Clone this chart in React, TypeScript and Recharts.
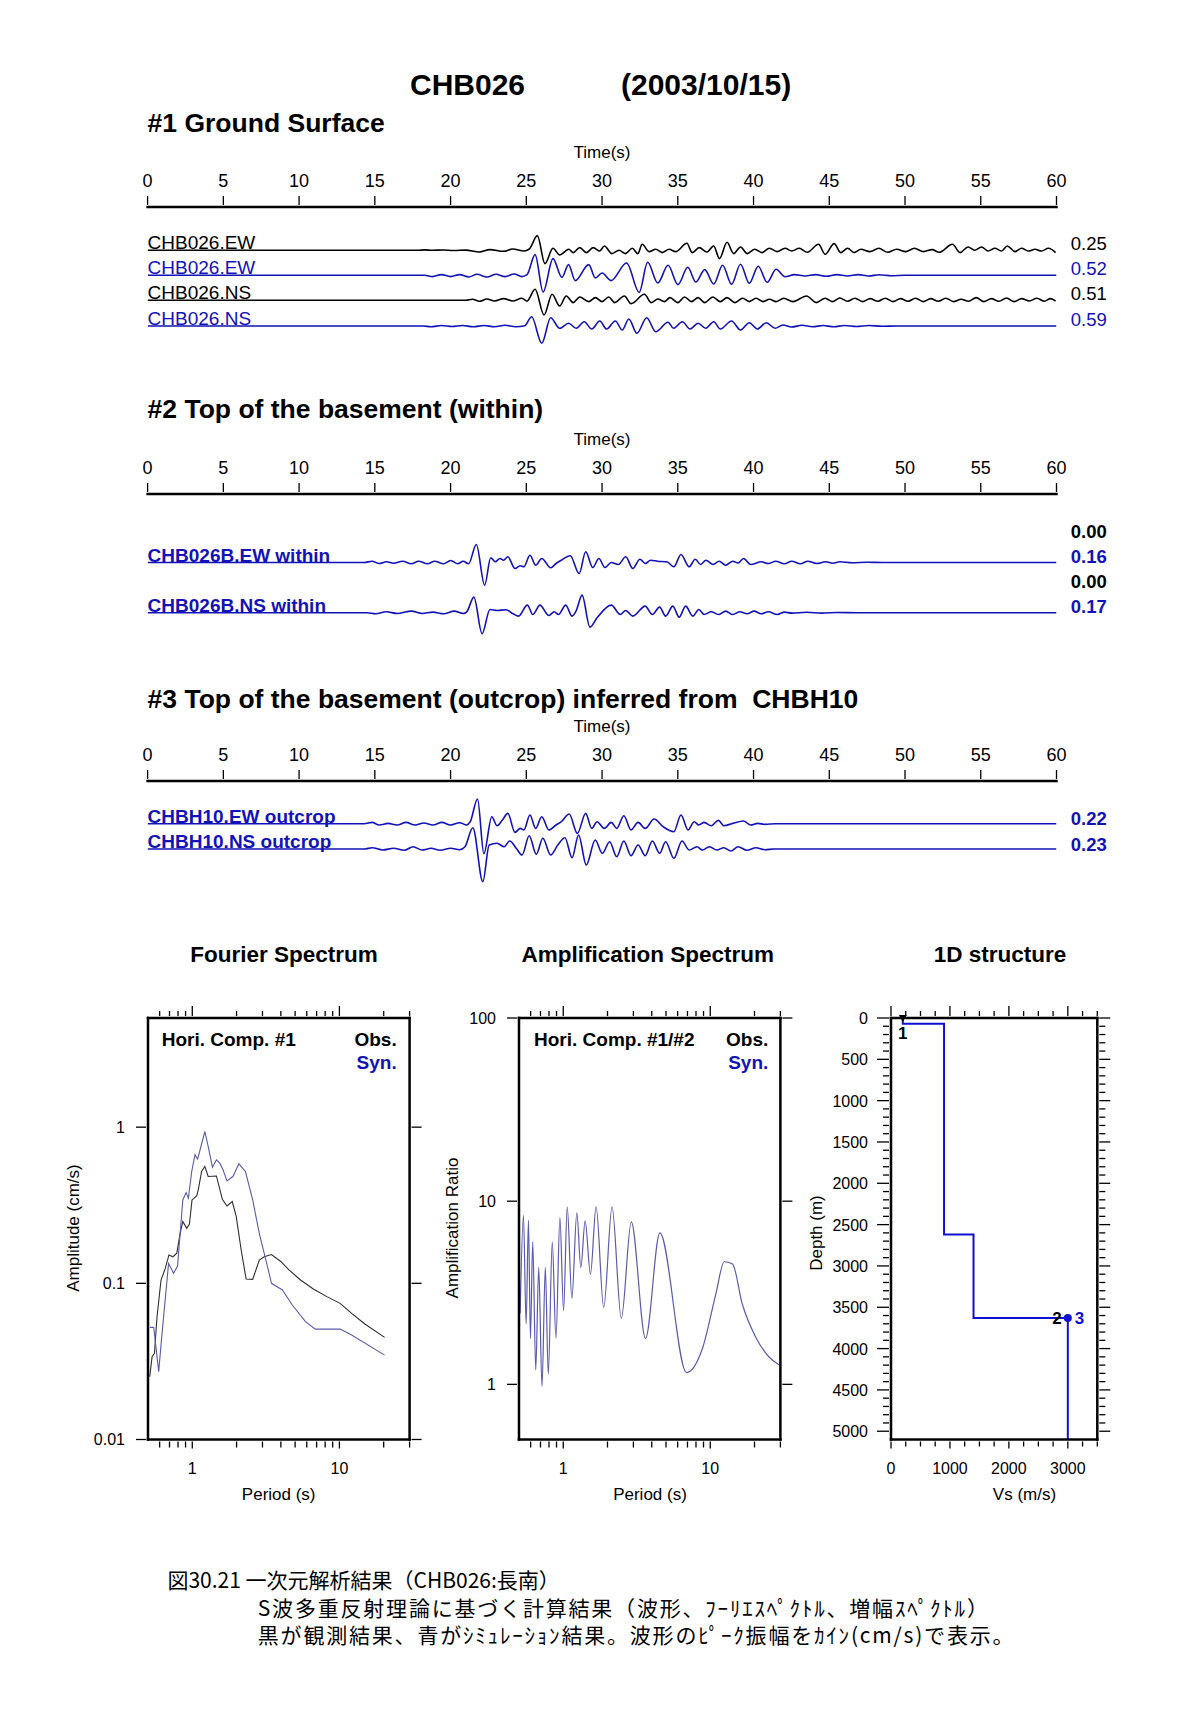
import React from 'react';
import { LineChart, Line, XAxis, YAxis, ReferenceDot } from 'recharts';

const FONT = '"Liberation Sans", Arial, Helvetica, sans-serif';
const JP_FONT = '"Noto Sans CJK JP", "Noto Sans CJK SC", sans-serif';
const BLUE = '#1212b8';
const SPEC_BLUE = '#5a5aae';
const SPEC_BLACK = '#2e2e2e';

// ---- waveforms: [time (s), trace deflection] ----
const obsEW1: [number, number][] = [
  [0, 0], [17.8, 0], [18.3, 0.4], [18.8, 0], [19.5, 0.3], [20.2, -0.2], [21.0, 0.2], [21.9, -1.7],
  [22.6, 0.7], [23.5, -1.0], [24.1, 1.3], [24.85, -0.7], [25.2, 1.3], [25.73, 14.7], [26.23, -13.3],
  [26.76, 2.0], [27.2, -4.7], [27.8, 1.0], [28.1, -2.3], [28.53, 2.7], [28.97, -2.3], [29.41, 2.7],
  [29.85, -0.7], [30.15, 4.3], [30.65, -3.3], [31.12, 0], [31.53, -3.3], [32.0, 2.0], [32.36, -3.3],
  [32.65, 6.0], [33.1, -1.3], [33.54, 1.0], [33.98, -2.3], [34.42, 1.0], [34.86, -1.3], [35.6, 7.0],
  [35.95, -2.3], [36.42, 2.7], [36.92, -1.7], [37.37, 4.3], [37.75, -8.3], [38.25, 8.0], [38.69, -3.3],
  [39.14, 3.3], [39.58, -3.3], [40.08, 1.0], [40.55, -2.3], [41.05, 2.0], [41.55, -1.3], [42.08, 2.0],
  [42.52, -0.7], [43.02, 2.0], [43.55, -2.0], [44.29, 6.0], [44.73, -4.0], [45.32, 6.7], [45.76, -2.3],
  [46.21, 2.0], [46.65, -2.3], [47.09, 1.0], [47.68, -1.3], [48.27, 2.0], [48.86, -2.0], [49.45, 1.0],
  [50.04, -1.3], [50.62, 2.0], [51.21, -1.3], [51.8, 0.7], [52.25, -2.0], [53.13, 6.0], [53.63, -2.3],
  [54.16, 3.3], [54.6, 0], [55.05, 3.3], [55.49, -0.7], [55.93, 2.0], [56.37, -0.7], [56.75, 4.3],
  [57.26, -1.3], [57.7, 2.0], [58.14, -0.7], [58.58, 1.0], [59.02, -0.7], [59.47, 2.0], [59.94, -2.3],
];
const synEW1: [number, number][] = [
  [0, 0], [18.3, 0], [18.8, -1.3], [19.4, 0.7], [20.0, -1.3], [20.6, 0.7], [21.2, -1.7], [21.75, 1.0],
  [22.4, -1.7], [23.0, 1.0], [23.6, -1.3], [24.2, 1.3], [24.7, -1.3], [25.05, 0.7], [25.58, 20.7],
  [26.11, -16.7], [26.76, 16.7], [27.35, -2.0], [27.79, 10.7], [28.23, -5.3], [29.12, 10.7],
  [29.56, -2.7], [30.0, 2.3], [30.59, -5.3], [31.62, 12.3], [32.45, -17.0], [33.01, 13.0],
  [33.68, -7.7], [34.36, 10.0], [35.01, -9.3], [35.66, 8.0], [36.19, -6.7], [36.78, 5.7],
  [37.37, -8.7], [37.96, 10.0], [38.55, -9.0], [39.14, 11.0], [39.72, -8.0], [40.31, 9.0],
  [40.9, -7.0], [41.49, 6.0], [42.08, -1.5], [42.7, 0.7], [43.4, -0.7], [44.1, 0.7], [44.8, -1.0],
  [45.5, 0.7], [46.2, -0.7], [46.9, 0.7], [47.6, -0.7], [48.3, 0.5], [49.1, -0.5], [50.0, 0], [60, 0],
];
const obsNS1: [number, number][] = [
  [0, 0], [21.0, 0], [21.45, 1.0], [21.9, -1.0], [22.4, 1.3], [22.9, -0.7], [23.5, 1.7], [24.1, -0.7],
  [24.7, 2.0], [25.05, -0.7], [25.58, 11.0], [26.17, -14.7], [26.7, 6.0], [27.2, -5.7], [27.64, 4.3],
  [28.09, -2.3], [28.53, 3.3], [29.12, -1.3], [29.56, 2.7], [30.0, -1.3], [30.44, 3.3], [30.83, -2.3],
  [31.47, 4.3], [31.92, -3.3], [32.8, 6.0], [33.24, -2.3], [33.68, 1.3], [34.12, -1.3], [34.48, 2.7],
  [35.01, -2.3], [35.45, 3.3], [35.9, -1.3], [36.34, 2.7], [36.78, -2.3], [37.31, 3.3], [37.81, -1.3],
  [38.25, 2.7], [38.78, -2.3], [39.28, 2.0], [39.72, -1.3], [40.17, 2.0], [40.61, -1.3], [41.05, 1.0],
  [41.5, -1.3], [42.0, 2.0], [42.6, -1.3], [43.5, 4.3], [44.14, -2.3], [44.73, 2.0], [45.2, -1.3],
  [45.7, 2.3], [46.2, -1.0], [46.7, 2.0], [47.2, -1.3], [47.7, 1.7], [48.2, -1.0], [48.7, 2.0],
  [49.2, -1.3], [49.7, 1.7], [50.2, -1.0], [50.7, 2.0], [51.2, -1.3], [51.7, 1.7], [52.2, -1.0],
  [52.7, 2.0], [53.2, -1.3], [53.7, 1.0], [54.2, -1.0], [54.7, 2.7], [55.2, -1.3], [55.7, 1.7],
  [56.2, -1.0], [56.7, 2.3], [57.2, -1.3], [57.7, 1.7], [58.2, -0.7], [58.7, 2.0], [59.2, -1.0],
  [59.6, 1.7], [59.94, -0.7],
];
const synNS1: [number, number][] = [
  [0, 0], [18.2, 0], [18.7, -0.7], [19.4, 0.5], [20.1, -0.5], [20.8, 0.5], [21.5, -0.7], [22.2, 0.5],
  [22.9, -0.7], [23.6, 0.7], [24.3, -0.7], [24.9, 0.3], [25.35, 9.3], [26.02, -17.3], [26.61, 8.3],
  [27.2, -2.3], [27.79, 2.7], [28.29, -2.3], [28.82, 4.3], [29.32, -3.0], [29.85, 5.0], [30.3, -3.0],
  [30.88, 5.0], [31.33, -4.0], [31.77, 7.0], [32.3, -7.3], [32.95, 8.3], [33.54, -5.7], [34.36, 3.7],
  [34.72, -2.3], [35.3, 4.3], [35.81, -3.0], [36.34, 2.7], [36.84, -2.3], [37.37, 4.3], [37.81, -3.0],
  [38.55, 5.0], [39.14, -4.0], [39.72, 3.3], [40.25, -3.0], [40.84, 3.3], [41.43, -2.3], [41.93, 1.0],
  [42.52, -1.0], [43.2, 0.7], [43.9, -0.7], [44.6, 0.5], [45.3, -0.7], [46.0, 0.5], [46.8, -0.5],
  [47.6, 0.5], [48.5, -0.3], [49.5, 0], [60, 0],
];
const synEW2: [number, number][] = [
  [0, 0], [14.3, 0], [14.82, 1.3], [15.29, -1.0], [15.76, 0.7], [16.24, -0.7], [16.83, 1.3], [17.41, -1.3],
  [17.89, 1.3], [18.48, -1.3], [18.95, 1.3], [19.54, -1.3], [20.01, 2.0], [20.48, -1.3], [20.83, 1.3],
  [21.19, -1.3], [21.7, 18.0], [22.25, -22.7], [22.65, 4.7], [22.95, 0.7], [23.26, 4.0], [23.5, 2.3],
  [23.78, 5.7], [24.25, -6.0], [24.6, -3.3], [24.84, -4.3], [25.24, 7.3], [25.62, -2.7], [26.02, 4.0],
  [26.61, -5.3], [26.96, -1.0], [27.31, 2.3], [27.9, 6.7], [28.49, -11.0], [28.92, 10.7], [29.39, -5.0],
  [29.79, 4.0], [30.19, -5.0], [30.61, 0], [31.08, -2.0], [31.56, 5.7], [32.03, -6.0], [32.5, 3.3],
  [32.85, -1.0], [33.21, 2.3], [33.68, 1.3], [34.27, 0.7], [34.74, -4.3], [35.21, 8.0], [35.75, -4.3],
  [36.15, 3.3], [36.51, -2.0], [36.86, 2.3], [37.33, -2.0], [37.73, 1.3], [38.16, -2.7], [38.63, 1.3],
  [38.98, -0.5], [39.34, 4.0], [39.81, -2.0], [40.51, 0.7], [40.98, -1.0], [41.46, 1.3], [42.04, -1.3],
  [42.52, 1.3], [43.1, -1.3], [43.58, 1.3], [44.16, -1.0], [44.76, 0.7], [45.23, -0.7], [45.7, 0.7],
  [46.5, -0.3], [47.5, 0.3], [48.5, 0], [60, 0],
];
const synNS2: [number, number][] = [
  [0, 0], [14.5, 0], [15.06, -1.0], [15.76, 1.0], [16.47, -0.7], [17.41, 1.7], [18.12, -0.7], [18.83, 0.7],
  [19.54, -1.0], [20.24, 1.7], [20.83, -0.7], [21.07, 1.0], [21.54, 15.7], [22.08, -21.0], [22.6, 3.3],
  [23.07, 2.3], [23.66, 3.0], [24.13, -1.0], [24.49, -3.3], [25.07, 7.7], [25.43, -1.7], [25.9, 7.7],
  [26.49, -2.7], [26.84, 1.0], [27.12, -1.7], [27.6, 7.7], [28.02, -3.3], [28.3, 2.3], [28.68, 17.7],
  [29.2, -14.3], [29.67, -5.0], [30.61, 7.7], [31.2, -1.7], [31.56, 2.3], [32.03, -3.3], [32.85, 6.7],
  [33.32, -1.7], [33.8, 5.7], [34.2, -3.3], [34.67, 6.7], [35.09, -4.3], [35.52, 6.7], [35.99, -3.3],
  [36.39, 3.3], [36.74, -1.7], [37.21, 1.0], [37.68, -1.7], [38.16, 1.7], [38.63, -1.7], [39.1, 1.0],
  [39.57, -1.0], [40.04, 1.7], [40.51, -1.0], [40.98, 1.0], [41.57, -1.7], [42.04, 0.7], [42.52, -0.3],
  [43.5, 0.5], [44.5, -0.3], [45.5, 0.3], [47.0, 0], [60, 0],
];
const synEW3: [number, number][] = [
  [0, 0], [14.3, 0], [14.82, 1.3], [15.29, -1.3], [15.88, 0.3], [16.47, -1.3], [17.06, 1.3], [17.65, -1.3],
  [18.24, 0.7], [18.83, -1.3], [19.42, 1.3], [20.01, -1.3], [20.6, 1.0], [21.07, -1.3], [21.3, 2.0],
  [21.78, 24.7], [22.2, -30.0], [22.72, 7.0], [23.07, -2.0], [23.42, 3.7], [23.78, 10.3], [24.25, -8.7],
  [24.6, -4.7], [24.84, -6.3], [25.24, 8.7], [25.62, -4.7], [26.02, 7.0], [26.49, -6.3], [26.96, -1.3],
  [27.31, 2.0], [27.83, 9.7], [28.37, -9.7], [28.92, 10.3], [29.32, -4.7], [29.67, 2.0], [30.14, -4.7],
  [30.61, 1.3], [30.97, -4.7], [31.44, 8.0], [31.91, -6.3], [32.38, 1.3], [32.85, -4.7], [33.44, 4.7],
  [34.03, -3.0], [34.74, -8.0], [35.21, 8.7], [35.68, -6.3], [36.08, 2.0], [36.39, -1.3], [36.74, 1.3],
  [37.21, -2.0], [37.68, 3.3], [38.04, -2.0], [38.63, 0.3], [39.34, 2.7], [39.81, -1.3], [40.28, 0.3],
  [40.75, -0.7], [41.46, 0], [60, 0],
];
const synNS3: [number, number][] = [
  [0, 0], [14.3, 0], [14.82, 1.3], [15.53, -1.0], [16.24, 0.7], [16.94, -1.3], [17.53, 2.3], [18.12, -1.0],
  [18.71, 0.7], [19.3, -1.3], [20.01, 0.7], [20.6, -0.7], [20.95, 2.3], [21.47, 21.3], [22.13, -32.7],
  [22.55, 4.0], [23.07, 5.7], [23.54, 2.3], [23.9, 8.0], [24.37, 0], [24.72, -6.0], [25.19, 13.3],
  [25.66, -5.3], [26.09, 10.7], [26.61, -6.0], [27.08, 4.0], [27.55, 11.3], [28.02, -8.7], [28.45, 14.0],
  [28.96, -16.0], [29.55, 9.0], [30.02, -4.3], [30.5, 7.3], [30.97, -7.7], [31.44, 8.0], [31.91, -6.7],
  [32.38, 4.0], [32.85, -6.7], [33.32, 8.0], [33.8, -4.3], [34.2, 7.3], [34.74, -9.3], [35.28, 8.0],
  [35.75, -1.0], [36.27, 2.3], [36.62, -1.0], [37.09, 2.3], [37.57, -1.0], [38.04, 1.3], [38.51, -2.0],
  [38.98, 2.3], [39.57, -1.3], [40.16, 1.3], [40.75, -0.7], [41.34, 0], [60, 0],
];
const timeTicks = [0, 5, 10, 15, 20, 25, 30, 35, 40, 45, 50, 55, 60];

// ---- Fourier spectrum: [period (s), amplitude (cm/s)] ----
const fourierObs: [number, number][] = [
  [0.514, 0.0252], [0.533, 0.0339], [0.553, 0.0356], [0.576, 0.0611], [0.613, 0.105], [0.656, 0.125],
  [0.694, 0.152], [0.738, 0.148], [0.785, 0.156], [0.827, 0.209], [0.862, 0.249], [0.917, 0.225],
  [0.956, 0.24], [0.996, 0.342], [1.071, 0.363], [1.098, 0.397], [1.157, 0.52], [1.218, 0.56],
  [1.282, 0.483], [1.459, 0.487], [1.601, 0.345], [1.721, 0.313], [1.869, 0.334], [1.989, 0.268],
  [2.148, 0.164], [2.322, 0.1066], [2.574, 0.106], [2.854, 0.141], [3.084, 0.148], [3.455, 0.153],
  [3.992, 0.138], [4.541, 0.122], [5.441, 0.105], [6.688, 0.0916], [8.22, 0.0822], [10.11, 0.0744],
  [12.11, 0.0642], [14.89, 0.0549], [20.29, 0.0451],
];
const fourierSyn: [number, number][] = [
  [0.514, 0.0522], [0.547, 0.0522], [0.591, 0.0272], [0.623, 0.0478], [0.69, 0.134], [0.746, 0.116],
  [0.794, 0.129], [0.827, 0.209], [0.862, 0.342], [0.908, 0.381], [0.941, 0.351], [0.991, 0.52],
  [1.043, 0.665], [1.087, 0.624], [1.145, 0.752], [1.218, 0.938], [1.282, 0.752], [1.371, 0.554],
  [1.459, 0.617], [1.537, 0.588], [1.618, 0.533], [1.721, 0.453], [1.889, 0.483], [2.073, 0.582],
  [2.298, 0.52], [2.574, 0.342], [2.854, 0.209], [3.164, 0.141], [3.455, 0.1], [4.097, 0.0906],
  [4.782, 0.0726], [5.879, 0.0568], [6.864, 0.0509], [10.11, 0.0509], [12.11, 0.0467], [20.29, 0.0347],
];

// ---- amplification spectrum: [period (s), ratio] ----
const ampSyn: [number, number][] = [
  [0.509, 2.44], [0.536, 8.38], [0.559, 2.14], [0.58, 7.87], [0.598, 1.78], [0.62, 6.0], [0.65, 1.2],
  [0.681, 4.35], [0.717, 0.973], [0.755, 4.35], [0.791, 1.14], [0.842, 6.0], [0.892, 1.78], [0.949, 8.14],
  [1.005, 2.52], [1.064, 9.3], [1.145, 2.95], [1.237, 8.63], [1.317, 4.35], [1.409, 7.8], [1.531, 4.0],
  [1.673, 9.3], [1.885, 2.63], [2.147, 9.3], [2.483, 2.29], [2.902, 7.71], [3.628, 1.78], [4.54, 6.71],
  [6.9, 1.16], [8.87, 1.58], [10.93, 3.13], [12.44, 4.67], [14.16, 4.54], [16.55, 2.73], [20.4, 1.81],
  [25.1, 1.41], [29.3, 1.28],
];
const periodTicks = [0.6, 0.7, 0.8, 0.9, 1, 2, 3, 4, 5, 6, 7, 8, 9, 10, 20, 30];
const fourierTicks = [0.01, 0.1, 1];
const ampTicks = [1, 10, 100];

// ---- 1D structure ----
const layerVs = [200, 900, 1400, 3000];
const layerBottom = [70, 2620, 3630, 5100];
const vsTicks = [0, 250, 500, 750, 1000, 1250, 1500, 1750, 2000, 2250, 2500, 2750, 3000, 3250, 3500];
const depthTicks = Array.from({ length: 51 }, (_, i) => i * 100);

const profile = (() => {
  const pts = [{ vs: layerVs[0], d: 0 }];
  layerVs.forEach((v, i) => {
    pts.push({ vs: v, d: layerBottom[i] });
    if (i + 1 < layerVs.length) pts.push({ vs: layerVs[i + 1], d: layerBottom[i] });
  });
  return pts;
})();

// layout
const T_LEFT = 147.6;
const T_RIGHT = 1056.5;
const AX = { stroke: '#000', strokeWidth: 2.5, strokeLinecap: 'square' as const };

type Side = 'top' | 'bottom' | 'left' | 'right';
function makeTick(side: Side, isMajor: (v: number) => boolean, fmt: ((v: number) => string) | null,
  majorLen: number, minorLen: number, fontSize = 16) {
  return (props: any) => {
    const x = Number(props.x);
    const y = Number(props.y);
    const v = props.payload?.value as number;
    const major = isMajor(v);
    const len = major ? majorLen : minorLen;
    let x2 = x, y2 = y, tx = x, ty = y;
    let anchor: 'middle' | 'end' = 'middle';
    if (side === 'top') { y2 = y - len; ty = y - 18.5; }
    else if (side === 'bottom') { y2 = y + len; ty = y + 33; }
    else if (side === 'left') { x2 = x - len; tx = x - 21; ty = y + 6; anchor = 'end'; }
    else { x2 = x + len; }
    return (
      <g>
        <line x1={x} y1={y} x2={x2} y2={y2} stroke="#000" strokeWidth={1.3} />
        {fmt && major ? (
          <text x={tx} y={ty} textAnchor={anchor} fontSize={fontSize} fontFamily={FONT} fill="#000">{fmt(v)}</text>
        ) : null}
      </g>
    );
  };
}

const timeTick = makeTick('top', () => true, (v) => String(v), 9, 9, 18);
const logMajor = (v: number) => v === 1 || v === 10;

type Trace = { pts: [number, number][]; color: string; laneY: number };

function WaveChart({ axisY, plotH, traces }: { axisY: number; plotH: number; traces: Trace[] }) {
  const AXIS_H = 60;
  return (
    <div style={{ position: 'absolute', left: 0, top: axisY - AXIS_H }}>
      <LineChart width={1204} height={AXIS_H + plotH} margin={{ top: 0, right: 1204 - T_RIGHT, bottom: 0, left: T_LEFT }}>
        <XAxis xAxisId="t" type="number" dataKey="t" domain={[0, 60]} ticks={timeTicks} interval={0}
          orientation="top" height={AXIS_H} tickSize={0} tickLine={false} tick={timeTick} axisLine={AX} allowDataOverflow />
        <YAxis yAxisId="v" type="number" domain={[-plotH, 0]} hide width={0} allowDataOverflow />
        {traces.map((tr, i) => (
          <Line key={i} xAxisId="t" yAxisId="v" type="monotone" dataKey="v"
            data={tr.pts.map(([t, a]) => ({ t, v: axisY - tr.laneY + a }))}
            stroke={tr.color} strokeWidth={1.6} dot={false} activeDot={false} isAnimationActive={false} />
        ))}
      </LineChart>
    </div>
  );
}

const s1Axis = 206.7, s2Axis = 494, s3Axis = 781;
const s1Lanes = [250, 275, 300, 325.7];
const s2Lanes = [562.5, 612.8];
const s3Lanes = [823.7, 849];

function Txt({ x, y, children, size = 16, bold = false, color = '#000', anchor = 'start', font = FONT, rotate = false, spacing }:
  { x: number; y: number; children: React.ReactNode; size?: number; bold?: boolean; color?: string; anchor?: 'start' | 'middle' | 'end'; font?: string; rotate?: boolean; spacing?: number }) {
  return (
    <text x={x} y={y} fontSize={size} fontWeight={bold ? 'bold' : 'normal'} fill={color} textAnchor={anchor}
      fontFamily={font} transform={rotate ? `rotate(-90 ${x} ${y})` : undefined}
      dominantBaseline={rotate ? 'central' : undefined} letterSpacing={spacing} style={{ whiteSpace: 'pre' }}>
      {children}
    </text>
  );
}

export default function App() {
  const fW = 409.3 - 147.7, aW = 780.7 - 519.3, dW = 1097.3 - 891;
  const boxH = 421.5;
  return (
    <div style={{ position: 'absolute', left: 0, top: 0, width: 1204, height: 1727, background: '#fff', overflow: 'hidden' }}>
      <WaveChart axisY={s1Axis} plotH={150} traces={[
        { pts: obsEW1, color: '#000', laneY: s1Lanes[0] },
        { pts: synEW1, color: BLUE, laneY: s1Lanes[1] },
        { pts: obsNS1, color: '#000', laneY: s1Lanes[2] },
        { pts: synNS1, color: BLUE, laneY: s1Lanes[3] },
      ]} />
      <WaveChart axisY={s2Axis} plotH={150} traces={[
        { pts: synEW2, color: BLUE, laneY: s2Lanes[0] },
        { pts: synNS2, color: BLUE, laneY: s2Lanes[1] },
      ]} />
      <WaveChart axisY={s3Axis} plotH={115} traces={[
        { pts: synEW3, color: BLUE, laneY: s3Lanes[0] },
        { pts: synNS3, color: BLUE, laneY: s3Lanes[1] },
      ]} />

      {/* Fourier spectrum */}
      <div style={{ position: 'absolute', left: 147.7 - 60, top: 1018 - 20 }}>
        <LineChart width={fW + 80} height={boxH + 60} margin={{ top: 0, right: 0, bottom: 0, left: 0 }}>
          <XAxis xAxisId="b" type="number" dataKey="p" scale="log" domain={[0.5, 30]} ticks={periodTicks} interval={0}
            orientation="bottom" height={40} tickSize={0} tickLine={false} axisLine={AX} allowDataOverflow
            tick={makeTick('bottom', logMajor, (v) => String(v), 7, 6)} />
          <XAxis xAxisId="t" type="number" dataKey="p" scale="log" domain={[0.5, 30]} ticks={periodTicks} interval={0}
            orientation="top" height={20} tickSize={0} tickLine={false} axisLine={AX} allowDataOverflow
            tick={makeTick('top', logMajor, null, 10, 5)} />
          <YAxis yAxisId="l" type="number" scale="log" domain={[0.01, 5]} ticks={fourierTicks} interval={0}
            width={60} tickSize={0} tickLine={false} axisLine={AX} allowDataOverflow
            tick={makeTick('left', () => true, (v) => String(v), 10, 10)} />
          <YAxis yAxisId="r" orientation="right" type="number" scale="log" domain={[0.01, 5]} ticks={fourierTicks} interval={0}
            width={20} tickSize={0} tickLine={false} axisLine={AX} allowDataOverflow
            tick={makeTick('right', () => true, null, 10, 10)} />
          <Line xAxisId="b" yAxisId="l" type="linear" dataKey="a" data={fourierObs.map(([p, a]) => ({ p, a }))}
            stroke={SPEC_BLACK} strokeWidth={1.1} dot={false} activeDot={false} isAnimationActive={false} />
          <Line xAxisId="t" yAxisId="r" type="linear" dataKey="a" data={fourierSyn.map(([p, a]) => ({ p, a }))}
            stroke={SPEC_BLUE} strokeWidth={1.1} dot={false} activeDot={false} isAnimationActive={false} />
        </LineChart>
      </div>

      {/* Amplification spectrum */}
      <div style={{ position: 'absolute', left: 519.3 - 60, top: 1018 - 20 }}>
        <LineChart width={aW + 80} height={boxH + 60} margin={{ top: 0, right: 0, bottom: 0, left: 0 }}>
          <XAxis xAxisId="b" type="number" dataKey="p" scale="log" domain={[0.5, 30]} ticks={periodTicks} interval={0}
            orientation="bottom" height={40} tickSize={0} tickLine={false} axisLine={AX} allowDataOverflow
            tick={makeTick('bottom', logMajor, (v) => String(v), 7, 6)} />
          <XAxis xAxisId="t" type="number" dataKey="p" scale="log" domain={[0.5, 30]} ticks={periodTicks} interval={0}
            orientation="top" height={20} tickSize={0} tickLine={false} axisLine={AX} allowDataOverflow
            tick={makeTick('top', logMajor, null, 10, 5)} />
          <YAxis yAxisId="l" type="number" scale="log" domain={[0.5, 100]} ticks={ampTicks} interval={0}
            width={60} tickSize={0} tickLine={false} axisLine={AX} allowDataOverflow
            tick={makeTick('left', () => true, (v) => String(v), 10, 10)} />
          <YAxis yAxisId="r" orientation="right" type="number" scale="log" domain={[0.5, 100]} ticks={ampTicks} interval={0}
            width={20} tickSize={0} tickLine={false} axisLine={AX} allowDataOverflow
            tick={makeTick('right', () => true, null, 10, 10)} />
          <Line xAxisId="b" yAxisId="l" type="monotone" dataKey="r" data={ampSyn.map(([p, r]) => ({ p, r }))}
            stroke={SPEC_BLUE} strokeWidth={1.2} dot={false} activeDot={false} isAnimationActive={false} />
          <Line xAxisId="t" yAxisId="r" type="monotone" dataKey="r" data={ampSyn.map(([p, r]) => ({ p, r }))}
            stroke="transparent" strokeWidth={0} dot={false} activeDot={false} isAnimationActive={false} />
        </LineChart>
      </div>

      {/* 1D structure */}
      <div style={{ position: 'absolute', left: 891 - 60, top: 1018 - 20 }}>
        <LineChart width={dW + 80} height={boxH + 60} margin={{ top: 0, right: 0, bottom: 0, left: 0 }}>
          <XAxis xAxisId="b" type="number" dataKey="vs" domain={[0, 3500]} ticks={vsTicks} interval={0}
            orientation="bottom" height={40} tickSize={0} tickLine={false} axisLine={AX} allowDataOverflow
            tick={makeTick('bottom', (v) => v % 1000 === 0, (v) => String(v), 7, 5)} />
          <XAxis xAxisId="t" type="number" dataKey="vs" domain={[0, 3500]} ticks={vsTicks} interval={0}
            orientation="top" height={20} tickSize={0} tickLine={false} axisLine={AX} allowDataOverflow
            tick={makeTick('top', (v) => v % 1000 === 0, null, 10, 5)} />
          <YAxis yAxisId="l" type="number" reversed domain={[0, 5100]} ticks={depthTicks} interval={0}
            width={60} tickSize={0} tickLine={false} axisLine={AX} allowDataOverflow
            tick={makeTick('left', (v) => v % 500 === 0, (v) => String(v), 12, 6)} />
          <YAxis yAxisId="r" orientation="right" type="number" reversed domain={[0, 5100]} ticks={depthTicks} interval={0}
            width={20} tickSize={0} tickLine={false} axisLine={AX} allowDataOverflow
            tick={makeTick('right', (v) => v % 500 === 0, null, 11, 6)} />
          <Line xAxisId="b" yAxisId="l" type="linear" dataKey="d" data={profile}
            stroke="#1010d0" strokeWidth={2} dot={false} activeDot={false} isAnimationActive={false} />
          <Line xAxisId="t" yAxisId="r" type="linear" dataKey="d" data={profile}
            stroke="transparent" strokeWidth={0} dot={false} activeDot={false} isAnimationActive={false} />
          <ReferenceDot xAxisId="b" yAxisId="l" x={layerVs[0]} y={0} ifOverflow="visible"
            shape={(p: any) => (
              <g>
                <polygon points={`${p.cx - 4},${p.cy - 3} ${p.cx + 4},${p.cy - 3} ${p.cx},${p.cy + 4}`} fill="#000" />
                <text x={p.cx} y={p.cy + 21} textAnchor="middle" fontSize={17} fontWeight="bold" fontFamily={FONT} fill="#000">1</text>
              </g>
            )} />
          <ReferenceDot xAxisId="b" yAxisId="l" x={layerVs[3]} y={layerBottom[2]} ifOverflow="visible"
            shape={(p: any) => (
              <g>
                <circle cx={p.cx} cy={p.cy} r={4} fill="#1010d0" />
                <text x={p.cx - 6} y={p.cy + 6} textAnchor="end" fontSize={17} fontWeight="bold" fontFamily={FONT} fill="#000">2</text>
                <text x={p.cx + 7} y={p.cy + 6} textAnchor="start" fontSize={17} fontWeight="bold" fontFamily={FONT} fill="#1010d0">3</text>
              </g>
            )} />
        </LineChart>
      </div>

      {/* text overlay */}
      <svg width={1204} height={1727} style={{ position: 'absolute', left: 0, top: 0, pointerEvents: 'none' }}>
        <Txt x={410} y={95} size={30} bold>CHB026</Txt>
        <Txt x={621} y={95} size={30} bold>(2003/10/15)</Txt>

        <Txt x={T_LEFT} y={131.7} size={26.5} bold>#1 Ground Surface</Txt>
        <Txt x={602} y={s1Axis - 49} size={17} anchor="middle">Time(s)</Txt>
        <Txt x={T_LEFT} y={s1Lanes[0] - 1} size={19}>CHB026.EW</Txt>
        <Txt x={T_LEFT} y={s1Lanes[1] - 1} size={19} color={BLUE}>CHB026.EW</Txt>
        <Txt x={T_LEFT} y={s1Lanes[2] - 1} size={19}>CHB026.NS</Txt>
        <Txt x={T_LEFT} y={s1Lanes[3] - 1} size={19} color={BLUE}>CHB026.NS</Txt>
        <Txt x={1070.8} y={s1Lanes[0]} size={18.5}>0.25</Txt>
        <Txt x={1070.8} y={s1Lanes[1]} size={18.5} color={BLUE}>0.52</Txt>
        <Txt x={1070.8} y={s1Lanes[2]} size={18.5}>0.51</Txt>
        <Txt x={1070.8} y={s1Lanes[3]} size={18.5} color={BLUE}>0.59</Txt>

        <Txt x={T_LEFT} y={418} size={26.5} bold>#2 Top of the basement (within)</Txt>
        <Txt x={602} y={s2Axis - 49} size={17} anchor="middle">Time(s)</Txt>
        <Txt x={T_LEFT} y={s2Lanes[0] - 1} size={19} bold color={BLUE}>CHB026B.EW within</Txt>
        <Txt x={T_LEFT} y={s2Lanes[1] - 1} size={19} bold color={BLUE}>CHB026B.NS within</Txt>
        <Txt x={1070.8} y={s2Lanes[0] - 24.5} size={18.5} bold>0.00</Txt>
        <Txt x={1070.8} y={s2Lanes[0] + 0.5} size={18.5} bold color={BLUE}>0.16</Txt>
        <Txt x={1070.8} y={s2Lanes[1] - 24.8} size={18.5} bold>0.00</Txt>
        <Txt x={1070.8} y={s2Lanes[1] + 0.2} size={18.5} bold color={BLUE}>0.17</Txt>

        <Txt x={T_LEFT} y={708} size={26.5} bold>{'#3 Top of the basement (outcrop) inferred from\u00a0\u00a0CHBH10'}</Txt>
        <Txt x={602} y={s3Axis - 49} size={17} anchor="middle">Time(s)</Txt>
        <Txt x={T_LEFT} y={s3Lanes[0] - 1} size={19} bold color={BLUE}>CHBH10.EW outcrop</Txt>
        <Txt x={T_LEFT} y={s3Lanes[1] - 1} size={19} bold color={BLUE}>CHBH10.NS outcrop</Txt>
        <Txt x={1070.8} y={s3Lanes[0] + 1} size={18.5} bold color={BLUE}>0.22</Txt>
        <Txt x={1070.8} y={s3Lanes[1] + 2} size={18.5} bold color={BLUE}>0.23</Txt>

        <Txt x={284} y={962} size={22.5} bold anchor="middle">Fourier Spectrum</Txt>
        <Txt x={647.7} y={962} size={22.5} bold anchor="middle">Amplification Spectrum</Txt>
        <Txt x={1000} y={962} size={22.5} bold anchor="middle">1D structure</Txt>

        <Txt x={161.7} y={1046} size={19} bold>Hori. Comp. #1</Txt>
        <Txt x={396.7} y={1046} size={19} bold anchor="end">Obs.</Txt>
        <Txt x={396.7} y={1069} size={19} bold anchor="end" color={BLUE}>Syn.</Txt>
        <Txt x={534} y={1046} size={19} bold>Hori. Comp. #1/#2</Txt>
        <Txt x={768.3} y={1046} size={19} bold anchor="end">Obs.</Txt>
        <Txt x={768.3} y={1069} size={19} bold anchor="end" color={BLUE}>Syn.</Txt>

        <Txt x={73} y={1228} size={17} anchor="middle" rotate>Amplitude (cm/s)</Txt>
        <Txt x={452} y={1228} size={17} anchor="middle" rotate>Amplification Ratio</Txt>
        <Txt x={816} y={1233} size={17} anchor="middle" rotate>Depth (m)</Txt>
        <Txt x={278.7} y={1500} size={17} anchor="middle">Period (s)</Txt>
        <Txt x={650} y={1500} size={17} anchor="middle">Period (s)</Txt>
        <Txt x={1024.5} y={1500} size={17} anchor="middle">Vs (m/s)</Txt>

        <Txt x={167.4} y={1588} size={21} font={JP_FONT}>図30.21 一次元解析結果（CHB026:長南）</Txt>
        <Txt x={257.8} y={1615.5} size={21} font={JP_FONT} spacing={1.8}>S波多重反射理論に基づく計算結果（波形、ﾌｰﾘｴｽﾍﾟｸﾄﾙ、増幅ｽﾍﾟｸﾄﾙ）</Txt>
        <Txt x={257.8} y={1643} size={21} font={JP_FONT} spacing={1.8}>黒が観測結果、青がｼﾐｭﾚｰｼｮﾝ結果。波形のﾋﾟｰｸ振幅をｶｲﾝ(cm/s)で表示。</Txt>
      </svg>
    </div>
  );
}
